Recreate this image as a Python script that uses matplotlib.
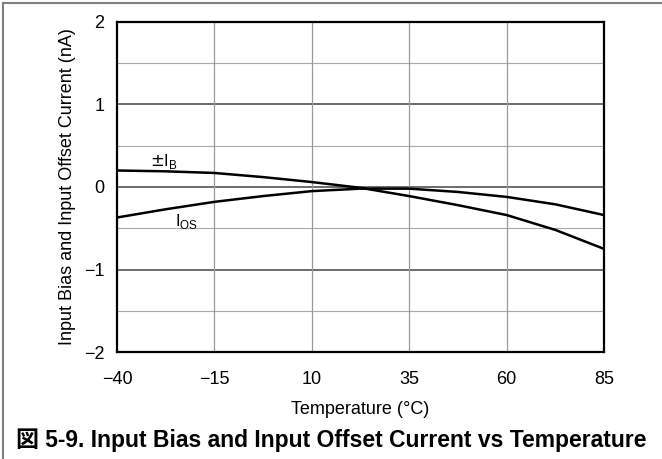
import numpy as np
import matplotlib.pyplot as plt
from matplotlib.lines import Line2D

plt.rcParams['font.family'] = ['Liberation Sans', 'Noto Sans CJK JP']

temp = [-40, -27.5, -15, -2.5, 10, 22.5, 35, 47.5, 60, 72.5, 85]
ib = [0.20, 0.19, 0.17, 0.12, 0.06, -0.01, -0.11, -0.22, -0.34, -0.52, -0.75]
ios = [-0.37, -0.27, -0.18, -0.11, -0.05, -0.02, -0.02, -0.06, -0.12, -0.21, -0.34]
xticks = [-40, -15, 10, 35, 60, 85]
yticks = [-2, -1, 0, 1, 2]

fig = plt.figure(figsize=(6.62, 4.59), dpi=100)
ax = fig.add_axes([0.1767, 0.2331, 0.7357, 0.719])

# grid: light at half steps, darker at integers
for y in np.arange(-1.5, 2, 0.5):
    if y == int(y):
        ax.axhline(y, color='#444444', lw=1.1, zorder=1)
    else:
        ax.axhline(y, color='#aaaaaa', lw=0.8, zorder=1)
for x in xticks[1:-1]:
    ax.axvline(x, color='#999999', lw=0.9, zorder=1)

ax.plot(temp, ib, color='black', lw=1.8, zorder=3)
ax.plot(temp, ios, color='black', lw=1.8, zorder=3)

ax.text(-31.5, 0.26, r'$\pm$I$_\mathregular{B}$', fontsize=12, zorder=4)
ax.text(-25, -0.47, r'I$_\mathregular{OS}$', fontsize=12, zorder=4)

ax.set_xlim(-40, 85)
ax.set_ylim(-2, 2)
ax.set_xticks(xticks)
ax.set_yticks(yticks)
ax.tick_params(length=0, labelsize=13)
ax.tick_params(axis='x', pad=14)
ax.tick_params(axis='y', pad=9)
for s in ax.spines.values():
    s.set_linewidth(1.6)
    s.set_zorder(5)

ax.set_xlabel('Temperature (°C)', fontsize=13, labelpad=9)
ax.set_ylabel('Input Bias and Input Offset Current (nA)', fontsize=13, labelpad=6)

fig.text(0.5, 0.04, '図 5-9. Input Bias and Input Offset Current vs Temperature',
         ha='center', va='center', fontsize=16.5, fontweight='bold')

# outer frame (top and left edge)
fig.add_artist(Line2D([0.005, 0.005], [0, 0.994], transform=fig.transFigure, color='#808080', lw=1.5))
fig.add_artist(Line2D([0.005, 1], [0.994, 0.994], transform=fig.transFigure, color='#808080', lw=1.5))

fig.savefig('out.png', dpi=100)
